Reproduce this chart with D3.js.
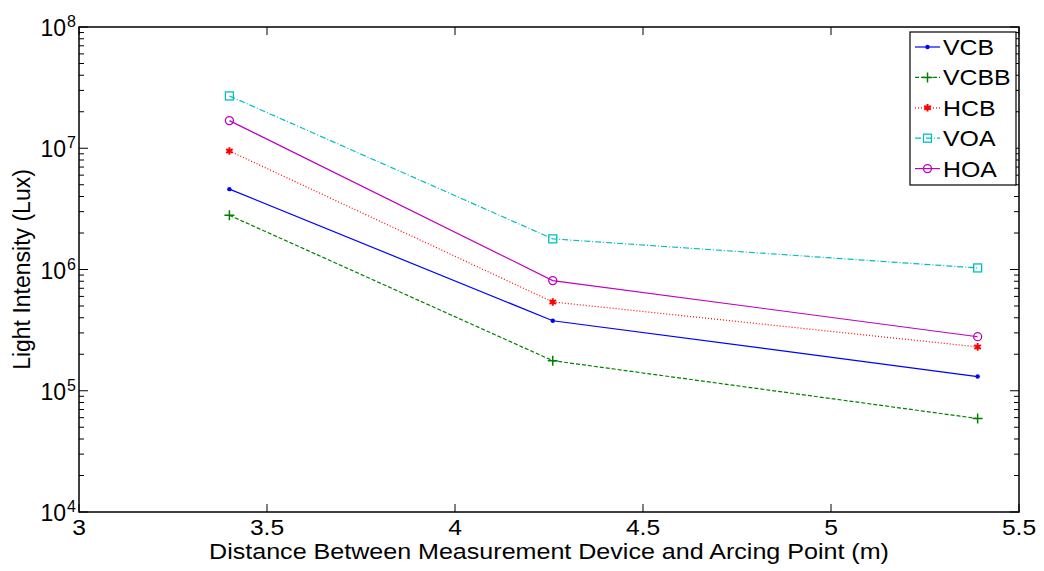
<!DOCTYPE html>
<html>
<head>
<meta charset="utf-8">
<script src="https://cdn.jsdelivr.net/npm/d3@7"></script>
<style>
  body { margin: 0; background: #fff; }
  svg { display: block; font-family: "Liberation Sans", Arial, sans-serif; }
</style>
</head>
<body>
<svg id="chart" width="1044" height="571"></svg>
<script>
// distances (m)
const distances = [3.4, 4.26, 5.39];
const seriesNames = ["VCB", "VCBB", "HCB", "VOA", "HOA"];
const vcb = [4.6e6, 3.78e5, 1.31e5];
const vcbb = [2.8e6, 1.77e5, 5.9e4];
const hcb = [9.5e6, 5.4e5, 2.3e5];
const voa = [2.7e7, 1.79e6, 1.03e6];
const hoa = [1.69e7, 8.1e5, 2.79e5];
const xTicks = [3, 3.5, 4, 4.5, 5, 5.5];
const yExps = [4, 5, 6, 7, 8];

const styles = {
  VCB: { color: "#0000ff", dash: null, marker: "point" },
  VCBB: { color: "#008000", dash: "4,2", marker: "plus" },
  HCB: { color: "#ff0000", dash: "1,2", marker: "star" },
  VOA: { color: "#00bfbf", dash: "6,2,1,2", marker: "square" },
  HOA: { color: "#bf00bf", dash: null, marker: "circle" }
};
const values = { VCB: vcb, VCBB: vcbb, HCB: hcb, VOA: voa, HOA: hoa };

const svg = d3.select("#chart");
const L = 79, R = 1019, T = 27, B = 512;

const x = d3.scaleLinear().domain([3, 5.5]).range([L, R]);
const y = d3.scaleLog().domain([1e4, 1e8]).range([B, T]);

// frame
svg.append("rect").attr("x", L).attr("y", T).attr("width", R - L).attr("height", B - T)
  .attr("fill", "none").attr("stroke", "#000").attr("stroke-width", 1.5);

const ticks = svg.append("g").attr("stroke", "#000").attr("stroke-width", 1);
// x ticks, inward on bottom and top
xTicks.forEach(v => {
  ticks.append("line").attr("x1", x(v)).attr("x2", x(v)).attr("y1", B).attr("y2", B - 8);
  ticks.append("line").attr("x1", x(v)).attr("x2", x(v)).attr("y1", T).attr("y2", T + 8);
});
// y ticks (major + minor)
for (let e = 4; e <= 8; e++) {
  for (let m = 1; m <= 9; m++) {
    const v = m * Math.pow(10, e);
    if (v > 1e8) break;
    const len = m === 1 ? 9 : 5;
    ticks.append("line").attr("x1", L).attr("x2", L + len).attr("y1", y(v)).attr("y2", y(v));
    ticks.append("line").attr("x1", R).attr("x2", R - len).attr("y1", y(v)).attr("y2", y(v));
  }
}

// tick labels
svg.append("g").selectAll("text").data(xTicks).join("text")
  .attr("transform", d => `translate(${x(d)},535) scale(1.12,1)`).attr("text-anchor", "middle")
  .attr("font-size", 22).text(d => d);

const yl = svg.append("g").selectAll("g").data(yExps).join("g")
  .attr("transform", d => `translate(${L - 13},${y(Math.pow(10, d)) + 9})`);
yl.append("text").attr("text-anchor", "end").attr("font-size", 23).text("10");
yl.append("text").attr("x", 1).attr("y", -9).attr("font-size", 16).text(d => d);

// axis titles
svg.append("text").attr("transform", `translate(${(L + R) / 2 + 0},559) scale(1.14,1)`)
  .attr("text-anchor", "middle")
  .attr("font-size", 22).text("Distance Between Measurement Device and Arcing Point (m)");
svg.append("text").attr("transform", `translate(30,${(T + B) / 2}) rotate(-90)`)
  .attr("text-anchor", "middle").attr("font-size", 23).text("Light Intensity (Lux)");

function drawMarker(g, type, color, cx, cy) {
  if (type === "point") {
    g.append("circle").attr("cx", cx).attr("cy", cy).attr("r", 2.2).attr("fill", color);
  } else if (type === "plus") {
    g.append("path").attr("d", `M${cx - 5},${cy}H${cx + 5}M${cx},${cy - 5}V${cy + 5}`)
      .attr("stroke", color).attr("stroke-width", 1.5);
  } else if (type === "star") {
    g.append("path").attr("d", d3.symbol(d3.symbolAsterisk, 40)())
      .attr("transform", `translate(${cx},${cy})`).attr("stroke", color).attr("stroke-width", 2);
    g.append("circle").attr("cx", cx).attr("cy", cy).attr("r", 2).attr("fill", color);
  } else if (type === "square") {
    g.append("rect").attr("x", cx - 4).attr("y", cy - 4).attr("width", 8).attr("height", 8)
      .attr("fill", "none").attr("stroke", color).attr("stroke-width", 1.3);
  } else if (type === "circle") {
    g.append("circle").attr("cx", cx).attr("cy", cy).attr("r", 4).attr("fill", "none")
      .attr("stroke", color).attr("stroke-width", 1.3);
  }
}

const line = d3.line().x(d => x(d[0])).y(d => y(d[1]));
seriesNames.forEach(name => {
  const s = styles[name];
  const pts = distances.map((d, i) => [d, values[name][i]]);
  const g = svg.append("g");
  g.append("path").attr("d", line(pts)).attr("fill", "none").attr("stroke", s.color)
    .attr("stroke-width", 1.2).attr("stroke-dasharray", s.dash);
  pts.forEach(p => drawMarker(g, s.marker, s.color, x(p[0]), y(p[1])));
});

// legend
const lg = svg.append("g");
lg.append("rect").attr("x", 910).attr("y", 32).attr("width", 106).attr("height", 153)
  .attr("fill", "#fff").attr("stroke", "#000").attr("stroke-width", 1.2);
seriesNames.forEach((name, i) => {
  const s = styles[name];
  const cy = 47 + i * 30.4;
  lg.append("line").attr("x1", 915).attr("x2", 940).attr("y1", cy).attr("y2", cy)
    .attr("stroke", s.color).attr("stroke-width", 1.2).attr("stroke-dasharray", s.dash);
  drawMarker(lg, s.marker, s.color, 927.5, cy);
  lg.append("text").attr("transform", `translate(943,${cy + 8}) scale(1.13,1)`)
    .attr("font-size", 22).text(name);
});
</script>
</body>
</html>
